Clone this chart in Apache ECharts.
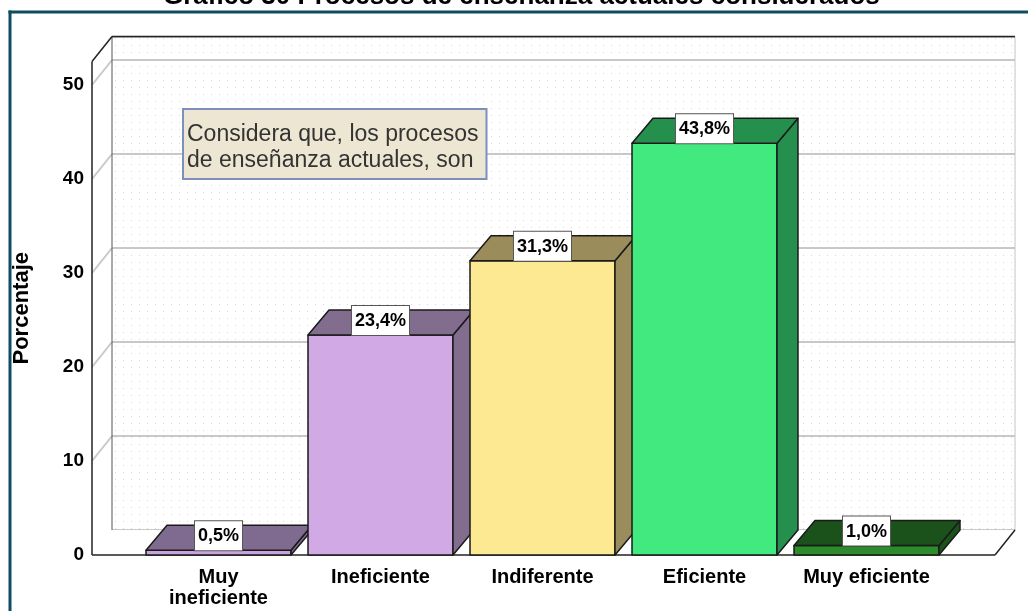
<!DOCTYPE html>
<html>
<head>
<meta charset="utf-8">
<title>Procesos de enseñanza actuales considerados</title>
<script src="https://cdn.jsdelivr.net/npm/echarts@6.0.0/dist/echarts.min.js"></script>
<style>
  html, body { margin: 0; padding: 0; background: #fff; }
  #chart { width: 1028px; height: 611px; }
</style>
</head>
<body>
<div id="chart"></div>
<script>
// datos del gráfico
const categories = ['Muy ineficiente', 'Ineficiente', 'Indiferente', 'Eficiente', 'Muy eficiente']
const xTickLabels = ['Muy\nineficiente', 'Ineficiente', 'Indiferente', 'Eficiente', 'Muy eficiente']
const percentValues = [0.5, 23.4, 31.3, 43.8, 1.0]
const yTicks = [0, 10, 20, 30, 40, 50]

// colores de cada barra (cara frontal / cara superior y lateral)
const frontColors = ['#c9a3df', '#d1aae5', '#fee993', '#42e97f', '#2d8b2d']
const sideColors = ['#7f6b8f', '#826d8f', '#9b8d5b', '#25904e', '#1b521b']

const FONT = '"Liberation Sans", Arial, sans-serif'
// desplazamiento de profundidad del efecto 3D
const DX = 20
const DY = -25
const BAR_DX = 21
const Y_MAX = 52.5
const BAR_RATIO = 0.895

const fmtPct = v => v.toFixed(1).replace('.', ',') + '%'

// patrón de puntos de la pared del fondo
function dotPattern () {
  const c = document.createElement('canvas')
  c.width = 8
  c.height = 7
  const ctx = c.getContext('2d')
  ctx.fillStyle = '#ffffff'
  ctx.fillRect(0, 0, 8, 7)
  ctx.fillStyle = '#d6d6d6'
  ctx.fillRect(3, 3, 1, 1)
  return c
}

// suelo, pared izquierda y aristas
function renderFrame (params, api) {
  const cs = params.coordSys
  const x0 = cs.x
  const x1 = cs.x + cs.width
  const y0 = api.coord([0, 0])[1]
  const yt = cs.y
  const dark = { stroke: '#222', lineWidth: 1.5 }
  const mid = { stroke: '#555', lineWidth: 1 }
  const light = { stroke: '#c4c4c4', lineWidth: 1 }
  const children = [
    { type: 'polygon', shape: { points: [[x0, y0], [x1, y0], [x1 + DX, y0 + DY], [x0 + DX, y0 + DY]] }, style: { fill: '#fff' } },
    { type: 'polygon', shape: { points: [[x0, y0], [x0 + DX, y0 + DY], [x0 + DX, yt + DY], [x0, yt]] }, style: { fill: '#fff' } }
  ]
  yTicks.forEach(t => {
    if (t === 0) return
    const y = api.coord([0, t])[1]
    children.push({ type: 'line', shape: { x1: x0, y1: y, x2: x0 + DX, y2: y + DY }, style: { stroke: '#c8c8c8', lineWidth: 2 } })
  })
  children.push(
    { type: 'line', shape: { x1: x0 + DX, y1: y0 + DY, x2: x0 + DX, y2: yt + DY }, style: mid },
    { type: 'line', shape: { x1: x1 + DX, y1: y0 + DY, x2: x1 + DX, y2: yt + DY }, style: light },
    { type: 'line', shape: { x1: x0, y1: y0, x2: x1, y2: y0 }, style: dark },
    { type: 'line', shape: { x1: x1, y1: y0, x2: x1 + DX, y2: y0 + DY }, style: dark },
    { type: 'line', shape: { x1: x0, y1: y0, x2: x0, y2: yt }, style: dark },
    { type: 'line', shape: { x1: x0, y1: yt, x2: x0 + DX, y2: yt + DY }, style: dark },
    { type: 'line', shape: { x1: x0 + DX, y1: yt + DY, x2: x1 + DX, y2: yt + DY }, style: dark }
  )
  return { type: 'group', children }
}

// barras en 3D
function renderBar (params, api) {
  const i = api.value(0)
  const v = api.value(1)
  const base = api.coord([i, 0])
  const top = api.coord([i, v])
  const w = api.size([1, 0])[0] * BAR_RATIO
  const xl = base[0] - w / 2
  const xr = base[0] + w / 2
  const yb = base[1]
  const yt = top[1]
  const edge = { stroke: '#1a1a1a', lineWidth: 1.5, lineJoin: 'round' }
  return {
    type: 'group',
    children: [
      { type: 'polygon', shape: { points: [[xl, yb], [xr, yb], [xr, yt], [xl, yt]] }, style: Object.assign({ fill: frontColors[i] }, edge) },
      { type: 'polygon', shape: { points: [[xr, yb], [xr + BAR_DX, yb + DY], [xr + BAR_DX, yt + DY], [xr, yt]] }, style: Object.assign({ fill: sideColors[i] }, edge) },
      { type: 'polygon', shape: { points: [[xl, yt], [xr, yt], [xr + BAR_DX, yt + DY], [xl + BAR_DX, yt + DY]] }, style: Object.assign({ fill: sideColors[i] }, edge) },
      {
        type: 'text',
        x: base[0],
        y: yt,
        style: {
          text: fmtPct(v),
          fontSize: 18,
          fontWeight: 'bold',
          fontFamily: FONT,
          fill: '#000',
          align: 'center',
          verticalAlign: 'bottom',
          backgroundColor: '#fff',
          borderColor: '#555',
          borderWidth: 1,
          padding: [6, 3, 5, 3]
        }
      }
    ]
  }
}

const chart = echarts.init(document.getElementById('chart'))
const option = {
  backgroundColor: '#fff',
  animation: false,
  title: {
    text: 'Gráfico 30 Procesos de enseñanza actuales considerados',
    left: 163,
    top: -16,
    padding: 0,
    textStyle: { fontSize: 26, fontWeight: 'bold', color: '#000', fontFamily: FONT }
  },
  grid: [
    // plano frontal
    { left: 92, right: 33, top: 61.5, bottom: 56 },
    // pared del fondo
    { left: 92 + DX, right: 33 - DX, top: 61.5 + DY, bottom: 56 - DY, show: true, borderWidth: 0, backgroundColor: { image: dotPattern(), repeat: 'repeat' } },
    // barras
    { left: 137.5, right: 80.5, top: 61.5, bottom: 56 }
  ],
  xAxis: [
    { gridIndex: 0, type: 'value', min: 0, max: 1, show: false },
    { gridIndex: 1, type: 'value', min: 0, max: 1, show: false },
    {
      gridIndex: 2,
      type: 'category',
      data: categories,
      axisLine: { show: false },
      axisTick: { show: false },
      axisLabel: {
        interval: 0,
        margin: 12,
        fontSize: 20,
        lineHeight: 21,
        fontWeight: 'bold',
        color: '#000',
        fontFamily: FONT,
        formatter: (val, idx) => xTickLabels[idx]
      }
    }
  ],
  yAxis: [
    {
      gridIndex: 0,
      type: 'value',
      min: 0,
      max: Y_MAX,
      interval: 10,
      name: 'Porcentaje',
      nameLocation: 'middle',
      nameGap: 59,
      nameTextStyle: { fontSize: 22, fontWeight: 'bold', color: '#000', fontFamily: FONT },
      axisLine: { show: false },
      axisTick: { show: false },
      splitLine: { show: false },
      axisLabel: {
        margin: 8,
        fontSize: 19,
        fontWeight: 'bold',
        color: '#000',
        fontFamily: FONT,
        padding: [10, 0, 0, 0],
        showMaxLabel: false,
        formatter: v => (yTicks.indexOf(v) >= 0 ? String(v) : '')
      }
    },
    {
      gridIndex: 1,
      type: 'value',
      min: 0,
      max: Y_MAX,
      interval: 10,
      axisLine: { show: false },
      axisTick: { show: false },
      axisLabel: { show: false },
      splitLine: { show: true, lineStyle: { color: '#c8c8c8', width: 2 } }
    },
    { gridIndex: 2, type: 'value', min: 0, max: Y_MAX, show: false }
  ],
  series: [
    {
      type: 'custom',
      name: 'marco',
      xAxisIndex: 0,
      yAxisIndex: 0,
      z: 1,
      silent: true,
      data: [[0, 0]],
      renderItem: renderFrame
    },
    {
      type: 'custom',
      name: 'Porcentaje',
      xAxisIndex: 2,
      yAxisIndex: 2,
      z: 3,
      silent: true,
      data: percentValues.map((v, i) => [i, v]),
      renderItem: renderBar
    }
  ],
  graphic: [
    // marco exterior
    { type: 'line', z: 10, shape: { x1: 8.5, y1: 12, x2: 1028, y2: 12 }, style: { stroke: '#0f4c62', lineWidth: 3 } },
    { type: 'line', z: 10, shape: { x1: 10, y1: 10.5, x2: 10, y2: 611 }, style: { stroke: '#0f4c62', lineWidth: 3 } },
    // cuadro de texto
    {
      type: 'text',
      z: 10,
      left: 182,
      top: 108,
      style: {
        text: 'Considera que, los procesos\nde enseñanza actuales, son',
        fontSize: 23,
        lineHeight: 26,
        fontFamily: FONT,
        fill: '#333',
        backgroundColor: '#ede6d2',
        borderColor: '#7d8fbe',
        borderWidth: 2,
        padding: [12, 7, 4, 3]
      }
    }
  ]
}
chart.setOption(option)
</script>
</body>
</html>
